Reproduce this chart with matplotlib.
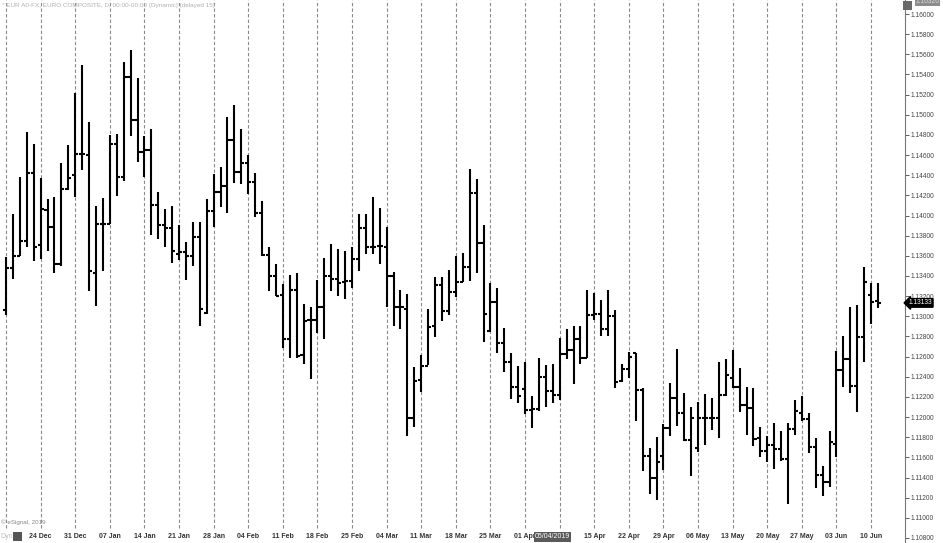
import numpy as np
import pandas as pd
import matplotlib
matplotlib.use("Agg")
import matplotlib.pyplot as plt
import matplotlib.transforms as mtransforms
from matplotlib.patches import Rectangle

# EUR/USD daily bars, 17 Dec 2018 .. 11 Jun 2019 (business days)
dates = pd.bdate_range("2018-12-17", "2019-06-11")

opens = [
    1.1306, 1.1348, 1.1360, 1.1375, 1.1442, 1.1371, 1.1405, 1.1389, 1.1352, 1.1426,
    1.1440, 1.1461, 1.1460, 1.1343, 1.1392, 1.1392, 1.1471, 1.1438, 1.1537, 1.1495,
    1.1463, 1.1465, 1.1410, 1.1391, 1.1388, 1.1362, 1.1364, 1.1360, 1.1379, 1.1303,
    1.1404, 1.1423, 1.1429, 1.1475, 1.1443, 1.1452, 1.1433, 1.1403, 1.1361, 1.1340,
    1.1321, 1.1277, 1.1326, 1.1262, 1.1296, 1.1296, 1.1309, 1.1340, 1.1337, 1.1334,
    1.1335, 1.1357, 1.1388, 1.1369, 1.1370, 1.1369, 1.1340, 1.1309, 1.1307, 1.1199,
    1.1237, 1.1251, 1.1290, 1.1331, 1.1305, 1.1324, 1.1334, 1.1349, 1.1422, 1.1373,
    1.1285, 1.1314, 1.1273, 1.1255, 1.1230, 1.1228, 1.1207, 1.1208, 1.1240, 1.1226,
    1.1222, 1.1263, 1.1267, 1.1277, 1.1259, 1.1301, 1.1302, 1.1287, 1.1300, 1.1236,
    1.1248, 1.1264, 1.1227, 1.1161, 1.1140, 1.1161, 1.1189, 1.1219, 1.1204, 1.1177,
    1.1169, 1.1199, 1.1199, 1.1199, 1.1222, 1.1239, 1.1230, 1.1212, 1.1209, 1.1179,
    1.1166, 1.1172, 1.1168, 1.1158, 1.1188, 1.1204, 1.1198, 1.1170, 1.1142, 1.1136,
    1.1173, 1.1247, 1.1258, 1.1231, 1.1279, 1.1321, 1.1315,
]
highs = [
    1.1359, 1.1402, 1.1438, 1.1483, 1.1471, 1.1437, 1.1416, 1.1418, 1.1452, 1.1470,
    1.1522, 1.1549, 1.1493, 1.1409, 1.1417, 1.1480, 1.1481, 1.1552, 1.1564, 1.1536,
    1.1479, 1.1486, 1.1423, 1.1406, 1.1409, 1.1391, 1.1374, 1.1394, 1.1394, 1.1416,
    1.1441, 1.1448, 1.1498, 1.1510, 1.1486, 1.1460, 1.1442, 1.1414, 1.1369, 1.1352,
    1.1332, 1.1341, 1.1343, 1.1312, 1.1309, 1.1336, 1.1358, 1.1372, 1.1367, 1.1365,
    1.1369, 1.1402, 1.1402, 1.1418, 1.1407, 1.1389, 1.1344, 1.1326, 1.1322, 1.1250,
    1.1262, 1.1307, 1.1339, 1.1339, 1.1346, 1.1360, 1.1363, 1.1446, 1.1436, 1.1391,
    1.1333, 1.1328, 1.1288, 1.1264, 1.1251, 1.1255, 1.1221, 1.1259, 1.1252, 1.1253,
    1.1278, 1.1287, 1.1290, 1.1290, 1.1326, 1.1323, 1.1316, 1.1326, 1.1306, 1.1253,
    1.1265, 1.1264, 1.1229, 1.1169, 1.1180, 1.1193, 1.1234, 1.1268, 1.1224, 1.1210,
    1.1215, 1.1223, 1.1219, 1.1255, 1.1258, 1.1267, 1.1249, 1.1230, 1.1229, 1.1190,
    1.1181, 1.1194, 1.1186, 1.1194, 1.1217, 1.1221, 1.1204, 1.1179, 1.1151, 1.1186,
    1.1266, 1.1280, 1.1309, 1.1311, 1.1349, 1.1333, 1.1333,
]
lows = [
    1.1301, 1.1337, 1.1360, 1.1369, 1.1355, 1.1357, 1.1365, 1.1343, 1.1350, 1.1425,
    1.1418, 1.1445, 1.1325, 1.1310, 1.1345, 1.1392, 1.1419, 1.1434, 1.1479, 1.1453,
    1.1438, 1.1381, 1.1377, 1.1369, 1.1353, 1.1356, 1.1336, 1.1350, 1.1290, 1.1302,
    1.1389, 1.1408, 1.1403, 1.1432, 1.1431, 1.1421, 1.1399, 1.1360, 1.1325, 1.1320,
    1.1269, 1.1259, 1.1259, 1.1253, 1.1238, 1.1283, 1.1277, 1.1325, 1.1320, 1.1317,
    1.1328, 1.1345, 1.1362, 1.1362, 1.1352, 1.1309, 1.1290, 1.1287, 1.1181, 1.1190,
    1.1225, 1.1252, 1.1279, 1.1295, 1.1301, 1.1319, 1.1334, 1.1335, 1.1343, 1.1274,
    1.1284, 1.1264, 1.1245, 1.1218, 1.1214, 1.1203, 1.1189, 1.1206, 1.1210, 1.1214,
    1.1217, 1.1258, 1.1233, 1.1253, 1.1259, 1.1296, 1.1280, 1.1280, 1.1229, 1.1235,
    1.1239, 1.1196, 1.1146, 1.1124, 1.1118, 1.1147, 1.1181, 1.1191, 1.1176, 1.1141,
    1.1165, 1.1172, 1.1187, 1.1179, 1.1221, 1.1229, 1.1205, 1.1182, 1.1171, 1.1160,
    1.1155, 1.1148, 1.1156, 1.1114, 1.1182, 1.1196, 1.1164, 1.1130, 1.1122, 1.1131,
    1.1160, 1.1230, 1.1224, 1.1205, 1.1255, 1.1292, 1.1308,
]
closes = [
    1.1348, 1.1360, 1.1375, 1.1442, 1.1369, 1.1406, 1.1389, 1.1352, 1.1426, 1.1437,
    1.1461, 1.1461, 1.1345, 1.1392, 1.1392, 1.1471, 1.1438, 1.1537, 1.1495, 1.1463,
    1.1465, 1.1410, 1.1391, 1.1388, 1.1365, 1.1364, 1.1360, 1.1379, 1.1307, 1.1404,
    1.1423, 1.1429, 1.1475, 1.1443, 1.1452, 1.1433, 1.1403, 1.1361, 1.1340, 1.1320,
    1.1277, 1.1326, 1.1261, 1.1295, 1.1296, 1.1309, 1.1340, 1.1337, 1.1333, 1.1335,
    1.1357, 1.1388, 1.1369, 1.1369, 1.1370, 1.1340, 1.1309, 1.1309, 1.1199, 1.1236,
    1.1251, 1.1289, 1.1331, 1.1305, 1.1324, 1.1334, 1.1349, 1.1422, 1.1373, 1.1302,
    1.1314, 1.1273, 1.1255, 1.1230, 1.1221, 1.1207, 1.1208, 1.1240, 1.1226, 1.1222,
    1.1263, 1.1267, 1.1277, 1.1259, 1.1301, 1.1302, 1.1287, 1.1300, 1.1235, 1.1248,
    1.1260, 1.1227, 1.1161, 1.1140, 1.1155, 1.1189, 1.1219, 1.1204, 1.1177, 1.1199,
    1.1199, 1.1199, 1.1199, 1.1222, 1.1242, 1.1230, 1.1212, 1.1209, 1.1178, 1.1166,
    1.1172, 1.1168, 1.1158, 1.1188, 1.1206, 1.1198, 1.1170, 1.1142, 1.1136, 1.1175,
    1.1247, 1.1258, 1.1231, 1.1279, 1.1334, 1.1314, 1.1313,
]

last_price = "1.13133"
top_price = "1.16326"
cursor_date = "05/04/2019"
title = "* EUR A0-FX, EURO COMPOSITE, D, 00:00-00:00 (Dynamic) (delayed 15)"

plt.rcParams["font.family"] = "Liberation Sans"

W, H = 943, 543
fig = plt.figure(figsize=(W / 100, H / 100), dpi=100)
ax = fig.add_axes([0, 0, 905 / W, 1])

x = np.arange(len(dates))
ax.vlines(x, lows, highs, color="black", lw=1.5, zorder=3)
ax.hlines(opens, x - 0.45, x, color="black", lw=1.5, zorder=3)
ax.hlines(closes, x, x + 0.45, color="black", lw=1.5, zorder=3)

# weekly separators on Mondays
mondays = [i for i, d in enumerate(dates) if d.weekday() == 0]
for i in mondays:
    ax.axvline(i, ymin=15 / H, ymax=1, color="#8a8a8a", lw=0.8,
               ls=(0, (3, 2)), zorder=1)

ax.set_xlim(-0.87, 129.9)
ax.set_ylim(1.10750, 1.16139)

# date labels
lab_tr = mtransforms.blended_transform_factory(ax.transData, ax.transAxes)
for i in mondays[1:]:
    d = dates[i]
    if d.strftime("%d %b") == "08 Apr":
        continue
    ax.text(i, 6 / H, d.strftime("%d %b"), transform=lab_tr, ha="center",
            va="center", fontsize=5, fontweight="bold", color="#333333")
cur_i = list(dates).index(pd.Timestamp("2019-04-08"))
ax.text(cur_i - 1, 6 / H, cursor_date, transform=lab_tr, ha="center", va="center",
        fontsize=5, color="white", zorder=5,
        bbox=dict(boxstyle="square,pad=0.15", fc="#5a5a5a", ec="none"))

# price axis on the right
ax.yaxis.tick_right()
ax.set_yticks(np.arange(1.108, 1.1601, 0.002))
ax.yaxis.set_major_formatter(matplotlib.ticker.FormatStrFormatter("%.5f"))
ax.tick_params(axis="y", direction="out", length=3, width=0.6, pad=1,
               labelsize=4.8, colors="#444444")
ax.tick_params(axis="x", bottom=False, labelbottom=False)
for s in ["top", "left", "bottom"]:
    ax.spines[s].set_visible(False)
ax.spines["right"].set_color("#777777")
ax.spines["right"].set_linewidth(0.8)

ytr = mtransforms.blended_transform_factory(ax.transAxes, ax.transData)
ax.text(1.004, float(last_price), last_price, transform=ytr, ha="left", va="center",
        fontsize=4.8, color="white", clip_on=False, zorder=6,
        bbox=dict(boxstyle="larrow,pad=0.12", fc="black", ec="black"))
ax.text(1.012, 1.1612, top_price, transform=ytr, ha="left", va="center",
        fontsize=4.8, color="#d8d8d8", clip_on=False, zorder=6,
        bbox=dict(boxstyle="square,pad=0.1", fc="#8c8c8c", ec="none"))

# decorations
fig.text(2 / W, 1 - 6 / H, title, fontsize=4.6, color="#b0b0b0", va="center")
fig.text(1 / W, 21 / H, "\u00a9 eSignal, 2019", fontsize=4.5, color="#888888",
         va="center")
fig.text(0, 6 / H, "Dyn", fontsize=5, color="#bbbbbb", va="center")
fig.patches.append(Rectangle((13 / W, 2 / H), 9 / W, 9 / H, transform=fig.transFigure,
                             fc="#555555", ec="none"))
fig.patches.append(Rectangle((903 / W, 1 - 10 / H), 9 / W, 9 / H,
                             transform=fig.transFigure, fc="#6a6a6a", ec="none"))

fig.savefig("out.png", dpi=100)
